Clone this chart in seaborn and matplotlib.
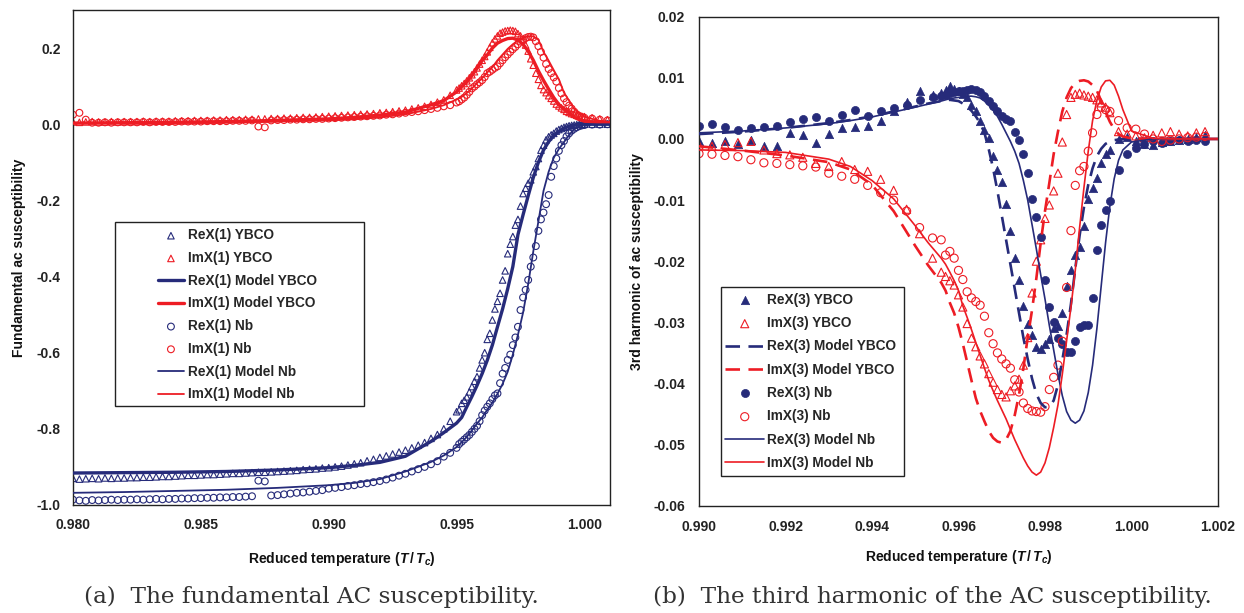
import matplotlib
matplotlib.use('Agg')
import matplotlib.pyplot as plt
from matplotlib.patches import Rectangle
from matplotlib.ticker import MultipleLocator, FormatStrFormatter
import seaborn as sns

# ---------------- (a) fundamental ac susceptibility ----------------
t1_data = [0.98000, 0.98025, 0.98050, 0.98075, 0.98100, 0.98125, 0.98150, 0.98175, 0.98200, 0.98225,
           0.98250, 0.98275, 0.98300, 0.98325, 0.98350, 0.98375, 0.98400, 0.98425, 0.98450, 0.98475,
           0.98500, 0.98525, 0.98550, 0.98575, 0.98600, 0.98625, 0.98650, 0.98675, 0.98700, 0.98725,
           0.98750, 0.98775, 0.98800, 0.98825, 0.98850, 0.98875, 0.98900, 0.98925, 0.98950, 0.98975,
           0.99000, 0.99025, 0.99050, 0.99075, 0.99100, 0.99125, 0.99150, 0.99175, 0.99200, 0.99225,
           0.99250, 0.99275, 0.99300, 0.99325, 0.99350, 0.99375, 0.99400, 0.99425, 0.99450, 0.99475,
           0.99500,
           0.9951, 0.9952, 0.9953, 0.9954, 0.9955, 0.9956, 0.9957, 0.9958, 0.9959, 0.9960,
           0.9961, 0.9962, 0.9963, 0.9964, 0.9965, 0.9966, 0.9967, 0.9968, 0.9969, 0.9970,
           0.9971, 0.9972, 0.9973, 0.9974, 0.9975, 0.9976, 0.9977, 0.9978, 0.9979, 0.9980,
           0.9981, 0.9982, 0.9983, 0.9984, 0.9985, 0.9986, 0.9987, 0.9988, 0.9989, 0.9990,
           0.9991, 0.9992, 0.9993, 0.9994, 0.9995, 0.9996, 0.9997, 0.9998, 0.9999,
           1.0000, 1.0003, 1.0006, 1.0009]

rex1_ybco = [-0.930, -0.932, -0.931, -0.930, -0.931, -0.929, -0.930, -0.929, -0.929, -0.928,
             -0.928, -0.927, -0.927, -0.926, -0.925, -0.925, -0.924, -0.923, -0.922, -0.922,
             -0.921, -0.920, -0.920, -0.919, -0.918, -0.917, -0.917, -0.916, -0.915, -0.914,
             -0.914, -0.913, -0.912, -0.911, -0.910, -0.909, -0.907, -0.906, -0.905, -0.903,
             -0.902, -0.900, -0.898, -0.895, -0.892, -0.889, -0.884, -0.880, -0.875, -0.871,
             -0.866, -0.861, -0.856, -0.850, -0.843, -0.836, -0.825, -0.815, -0.800, -0.780,
             -0.755,
             -0.750, -0.733, -0.725, -0.716, -0.703, -0.689, -0.675, -0.663, -0.640, -0.619,
             -0.600, -0.565, -0.549, -0.514, -0.485, -0.465, -0.444, -0.409, -0.385, -0.340,
             -0.315, -0.295, -0.265, -0.250, -0.215, -0.182, -0.168, -0.155, -0.146, -0.125,
             -0.111, -0.090, -0.068, -0.055, -0.041, -0.033, -0.028, -0.024, -0.018, -0.014,
             -0.011, -0.008, -0.006, -0.004, -0.003, -0.002, -0.001, 0.000, 0.000,
             0.000, 0.000, 0.000, 0.000]

imx1_ybco = [0.006, 0.005, 0.006, 0.007, 0.006, 0.006, 0.007, 0.006, 0.007, 0.007,
             0.007, 0.008, 0.007, 0.008, 0.008, 0.008, 0.009, 0.009, 0.009, 0.010,
             0.010, 0.010, 0.011, 0.011, 0.012, 0.012, 0.012, 0.013, 0.013, 0.014,
             0.014, 0.015, 0.015, 0.016, 0.016, 0.017, 0.018, 0.018, 0.019, 0.020,
             0.021, 0.022, 0.023, 0.024, 0.025, 0.026, 0.027, 0.028, 0.030, 0.031,
             0.033, 0.035, 0.037, 0.040, 0.043, 0.047, 0.052, 0.058, 0.064, 0.076,
             0.090,
             0.095, 0.101, 0.107, 0.114, 0.122, 0.130, 0.138, 0.148, 0.158, 0.168,
             0.178, 0.190, 0.202, 0.214, 0.224, 0.232, 0.239, 0.242, 0.245, 0.246,
             0.247, 0.246, 0.244, 0.238, 0.232, 0.222, 0.208, 0.192, 0.172, 0.155,
             0.134, 0.118, 0.102, 0.091, 0.083, 0.075, 0.068, 0.061, 0.053, 0.048,
             0.043, 0.039, 0.034, 0.031, 0.028, 0.026, 0.024, 0.022, 0.021,
             0.020, 0.017, 0.014, 0.012]

rex1_nb = [-0.986, -0.988, -0.989, -0.987, -0.988, -0.987, -0.986, -0.987, -0.986, -0.986,
           -0.985, -0.986, -0.985, -0.984, -0.985, -0.984, -0.984, -0.983, -0.983, -0.982,
           -0.982, -0.981, -0.981, -0.980, -0.980, -0.979, -0.979, -0.978, -0.977, -0.936,
           -0.938, -0.975, -0.974, -0.972, -0.970, -0.968, -0.967, -0.965, -0.963, -0.961,
           -0.957, -0.955, -0.953, -0.950, -0.948, -0.945, -0.943, -0.940, -0.937, -0.933,
           -0.928, -0.923, -0.918, -0.912, -0.906, -0.900, -0.893, -0.885, -0.873, -0.863,
           -0.850,
           -0.840, -0.834, -0.828, -0.822, -0.816, -0.808, -0.800, -0.792, -0.780, -0.764,
           -0.752, -0.742, -0.733, -0.722, -0.712, -0.707, -0.680, -0.655, -0.640, -0.619,
           -0.605, -0.580, -0.560, -0.532, -0.488, -0.455, -0.435, -0.409, -0.374, -0.350,
           -0.320, -0.280, -0.250, -0.232, -0.210, -0.186, -0.138, -0.110, -0.090, -0.070,
           -0.055, -0.044, -0.032, -0.024, -0.017, -0.012, -0.008, -0.005, -0.003,
           -0.002, -0.001, -0.001, 0.000]

imx1_nb = [0.025, 0.030, 0.012, 0.004, 0.004, 0.005, 0.004, 0.005, 0.005, 0.005,
           0.005, 0.006, 0.005, 0.006, 0.006, 0.006, 0.006, 0.007, 0.007, 0.007,
           0.007, 0.008, 0.008, 0.008, 0.008, 0.009, 0.009, 0.009, 0.010, -0.006,
           -0.008, 0.010, 0.011, 0.011, 0.012, 0.012, 0.013, 0.013, 0.014, 0.014,
           0.015, 0.016, 0.017, 0.018, 0.019, 0.020, 0.021, 0.022, 0.023, 0.025,
           0.026, 0.028, 0.030, 0.032, 0.034, 0.037, 0.040, 0.043, 0.047, 0.050,
           0.057,
           0.060, 0.065, 0.070, 0.077, 0.085, 0.094, 0.099, 0.105, 0.110, 0.116,
           0.124, 0.134, 0.138, 0.143, 0.148, 0.152, 0.160, 0.168, 0.176, 0.183,
           0.190, 0.197, 0.203, 0.210, 0.217, 0.222, 0.226, 0.229, 0.230, 0.228,
           0.218, 0.205, 0.190, 0.175, 0.158, 0.145, 0.134, 0.123, 0.112, 0.095,
           0.081, 0.068, 0.058, 0.049, 0.041, 0.033, 0.024, 0.021, 0.019,
           0.017, 0.015, 0.012, 0.010]

t1_model = [0.9800, 0.9820, 0.9840, 0.9860, 0.9880, 0.9900, 0.9910, 0.9920, 0.9930, 0.9940,
            0.9945, 0.9950,
            0.9952, 0.9954, 0.9956, 0.9958, 0.9960, 0.9962, 0.9964, 0.9966, 0.9968, 0.9970,
            0.9972, 0.9974, 0.9976, 0.9978, 0.9980, 0.9982, 0.9984, 0.9986, 0.9988, 0.9990,
            0.9992, 0.9994, 0.9996, 0.9998,
            1.0000, 1.0005, 1.0010]

rex1_ybco_model = [-0.916, -0.915, -0.914, -0.912, -0.908, -0.902, -0.896, -0.888, -0.872, -0.833,
                   -0.810, -0.785,
                   -0.770, -0.742, -0.715, -0.686, -0.655, -0.620, -0.580, -0.532, -0.485, -0.432,
                   -0.374, -0.290, -0.238, -0.188, -0.140, -0.100, -0.068, -0.046, -0.030, -0.019,
                   -0.010, -0.005, -0.002, 0.000,
                   0.000, 0.000, 0.000]

imx1_ybco_model = [0.003, 0.004, 0.005, 0.007, 0.010, 0.014, 0.018, 0.024, 0.032, 0.051,
                   0.062, 0.085,
                   0.099, 0.111, 0.128, 0.147, 0.167, 0.182, 0.200, 0.213, 0.220, 0.225,
                   0.226, 0.221, 0.210, 0.192, 0.168, 0.140, 0.115, 0.092, 0.070, 0.052,
                   0.040, 0.030, 0.018, 0.012,
                   0.008, 0.005, 0.004]

rex1_nb_model = [-0.968, -0.966, -0.963, -0.960, -0.955, -0.948, -0.942, -0.932, -0.912, -0.887,
                 -0.870, -0.848,
                 -0.835, -0.821, -0.804, -0.786, -0.770, -0.750, -0.731, -0.708, -0.682, -0.650,
                 -0.605, -0.553, -0.495, -0.420, -0.334, -0.255, -0.175, -0.125, -0.088, -0.065,
                 -0.047, -0.028, -0.013, -0.005,
                 0.000, 0.000, 0.000]

imx1_nb_model = [0.002, 0.003, 0.004, 0.005, 0.007, 0.010, 0.013, 0.018, 0.026, 0.040,
                 0.050, 0.065,
                 0.072, 0.082, 0.094, 0.108, 0.121, 0.136, 0.150, 0.168, 0.183, 0.198,
                 0.210, 0.220, 0.227, 0.231, 0.231, 0.222, 0.190, 0.167, 0.142, 0.118,
                 0.083, 0.062, 0.040, 0.031,
                 0.020, 0.010, 0.006]

# ---------------- (b) third harmonic ----------------
t3_data = [0.9900, 0.9903, 0.9906, 0.9909, 0.9912, 0.9915, 0.9918, 0.9921, 0.9924, 0.9927,
           0.9930, 0.9933, 0.9936, 0.9939, 0.9942, 0.9945, 0.9948, 0.9951, 0.9954,
           0.9956, 0.9957, 0.9958, 0.9959, 0.9960, 0.9961, 0.9962, 0.9963, 0.9964, 0.9965,
           0.9966, 0.9967, 0.9968, 0.9969, 0.9970, 0.9971, 0.9972, 0.9973, 0.9974, 0.9975,
           0.9976, 0.9977, 0.9978, 0.9979, 0.9980, 0.9981, 0.9982, 0.9983, 0.9984, 0.9985,
           0.9986, 0.9987, 0.9988, 0.9989, 0.9990, 0.9991, 0.9992, 0.9993, 0.9994, 0.9995,
           0.9997, 0.9999, 1.0001, 1.0003, 1.0005, 1.0007, 1.0009, 1.0011, 1.0013, 1.0015,
           1.0017]

rex3_ybco = [-0.0004, -0.0006, -0.0003, -0.0009, -0.0002, -0.0011, -0.0012, 0.0010, 0.0006, -0.0007,
             0.0008, 0.0018, 0.0020, 0.0022, 0.0030, 0.0045, 0.0060, 0.0078, 0.0072,
             0.0075, 0.0080, 0.0087, 0.0082, 0.0078, 0.0074, 0.0068, 0.0056, 0.0045, 0.0030,
             0.0015, 0.0002, -0.0028, -0.0050, -0.0070, -0.0106, -0.0150, -0.0195, -0.0230, -0.0273,
             -0.0302, -0.0320, -0.0340, -0.0344, -0.0335, -0.0328, -0.0310, -0.0306, -0.0284, -0.0240,
             -0.0214, -0.0190, -0.0176, -0.0143, -0.0098, -0.0080, -0.0064, -0.0039, -0.0025, -0.0018,
             0.0000, 0.0004, -0.0004, -0.0008, -0.0010, -0.0005, -0.0003, -0.0002, 0.0000, 0.0004,
             0.0006]

imx3_ybco = [-0.0010, -0.0012, -0.0009, -0.0006, -0.0004, -0.0018, -0.0024, -0.0026, -0.0030, -0.0040,
             -0.0045, -0.0037, -0.0050, -0.0053, -0.0066, -0.0084, -0.0115, -0.0155, -0.0195,
             -0.0218, -0.0225, -0.0232, -0.0239, -0.0255, -0.0275, -0.0302, -0.0326, -0.0340, -0.0355,
             -0.0368, -0.0384, -0.0398, -0.0410, -0.0418, -0.0422, -0.0412, -0.0404, -0.0393, -0.0370,
             -0.0325, -0.0252, -0.0200, -0.0165, -0.0130, -0.0108, -0.0085, -0.0056, -0.0005, 0.0040,
             0.0068, 0.0073, 0.0075, 0.0072, 0.0070, 0.0068, 0.0064, 0.0059, 0.0052, 0.0043,
             0.0012, 0.0008, 0.0005, 0.0002, 0.0006, 0.0010, 0.0012, 0.0008, 0.0005, 0.0010,
             0.0012]

rex3_nb = [0.0022, 0.0024, 0.0020, 0.0015, 0.0018, 0.0020, 0.0022, 0.0028, 0.0032, 0.0036,
           0.0030, 0.0040, 0.0048, 0.0037, 0.0045, 0.0050, 0.0056, 0.0063, 0.0068,
           0.0070, 0.0072, 0.0075, 0.0076, 0.0078, 0.0079, 0.0080, 0.0081, 0.0080, 0.0076,
           0.0070, 0.0062, 0.0054, 0.0045, 0.0038, 0.0033, 0.0030, 0.0012, -0.0002, -0.0024,
           -0.0055, -0.0099, -0.0128, -0.0160, -0.0231, -0.0275, -0.0300, -0.0325, -0.0335, -0.0349,
           -0.0349, -0.0330, -0.0308, -0.0304, -0.0305, -0.0261, -0.0181, -0.0140, -0.0116, -0.0102,
           -0.0050, -0.0025, -0.0015, -0.0008, -0.0004, -0.0006, -0.0004, -0.0002, -0.0003, -0.0001,
           -0.0003]

imx3_nb = [-0.0024, -0.0025, -0.0027, -0.0029, -0.0034, -0.0039, -0.0040, -0.0042, -0.0044, -0.0046,
           -0.0056, -0.0061, -0.0066, -0.0076, -0.0088, -0.0100, -0.0118, -0.0145, -0.0162,
           -0.0165, -0.0190, -0.0184, -0.0195, -0.0215, -0.0230, -0.0250, -0.0260, -0.0266, -0.0272,
           -0.0290, -0.0317, -0.0335, -0.0350, -0.0360, -0.0368, -0.0375, -0.0394, -0.0414, -0.0432,
           -0.0441, -0.0445, -0.0446, -0.0447, -0.0438, -0.0410, -0.0390, -0.0370, -0.0331, -0.0243,
           -0.0150, -0.0076, -0.0052, -0.0045, -0.0020, 0.0010, 0.0040, 0.0052, 0.0048, 0.0045,
           0.0030, 0.0018, 0.0016, 0.0008, 0.0000, -0.0004, -0.0002, 0.0000, 0.0002, 0.0003,
           0.0004]

t3_model = [0.9900, 0.9910, 0.9920, 0.9930, 0.9935, 0.9940, 0.9945, 0.9950, 0.9953,
            0.9956, 0.9957, 0.9958, 0.9959, 0.9960, 0.9961, 0.9962, 0.9963, 0.9964, 0.9965,
            0.9966, 0.9967, 0.9968, 0.9969, 0.9970, 0.9971, 0.9972, 0.9973, 0.9974, 0.9975,
            0.9976, 0.9977, 0.9978, 0.9979, 0.9980, 0.9981, 0.9982, 0.9983, 0.9984, 0.9985,
            0.9986, 0.9987, 0.9988, 0.9989, 0.9990, 0.9991, 0.9992, 0.9993, 0.9994, 0.9995,
            0.9996, 0.9997, 0.9998,
            1.0000, 1.0005, 1.0010, 1.0015, 1.0020]

rex3_ybco_model = [0.0008, 0.0012, 0.0018, 0.0026, 0.0031, 0.0037, 0.0045, 0.0053, 0.0058,
                   0.0062, 0.0063, 0.0064, 0.0063, 0.0062, 0.0058, 0.0053, 0.0046, 0.0037, 0.0026,
                   0.0010, -0.0017, -0.0048, -0.0085, -0.0125, -0.0165, -0.0205, -0.0245, -0.0285, -0.0325,
                   -0.0360, -0.0392, -0.0417, -0.0432, -0.0439, -0.0438, -0.0428, -0.0402, -0.0362, -0.0320,
                   -0.0270, -0.0212, -0.0158, -0.0112, -0.0075, -0.0048, -0.0028, -0.0016, -0.0008, -0.0004,
                   -0.0002, -0.0001, 0.0000,
                   0.0000, 0.0000, 0.0000, 0.0000, 0.0000]

imx3_ybco_model = [-0.0012, -0.0019, -0.0027, -0.0038, -0.0050, -0.0075, -0.0118, -0.0175, -0.0207,
                   -0.0235, -0.0248, -0.0268, -0.0285, -0.0308, -0.0335, -0.0365, -0.0395, -0.0424, -0.0445,
                   -0.0462, -0.0478, -0.0489, -0.0495, -0.0497, -0.0492, -0.0478, -0.0452, -0.0418, -0.0375,
                   -0.0325, -0.0280, -0.0228, -0.0170, -0.0118, -0.0072, -0.0025, 0.0012, 0.0045, 0.0068,
                   0.0083, 0.0092, 0.0095, 0.0096, 0.0094, 0.0088, 0.0079, 0.0062, 0.0044, 0.0028,
                   0.0016, 0.0008, 0.0004,
                   0.0001, 0.0000, 0.0000, 0.0000, 0.0000]

rex3_nb_model = [0.0010, 0.0013, 0.0018, 0.0025, 0.0030, 0.0036, 0.0044, 0.0052, 0.0057,
                 0.0062, 0.0064, 0.0066, 0.0067, 0.0068, 0.0069, 0.0070, 0.0070, 0.0069, 0.0067,
                 0.0062, 0.0055, 0.0047, 0.0037, 0.0024, 0.0010, -0.0004, -0.0020, -0.0040, -0.0068,
                 -0.0100, -0.0140, -0.0180, -0.0222, -0.0262, -0.0305, -0.0345, -0.0385, -0.0420, -0.0446,
                 -0.0460, -0.0465, -0.0460, -0.0445, -0.0415, -0.0370, -0.0310, -0.0240, -0.0170, -0.0110,
                 -0.0065, -0.0035, -0.0018,
                 -0.0005, 0.0000, 0.0000, 0.0000, 0.0000]

imx3_nb_model = [-0.0018, -0.0019, -0.0022, -0.0033, -0.0045, -0.0068, -0.0098, -0.0142, -0.0170,
                 -0.0195, -0.0205, -0.0218, -0.0232, -0.0248, -0.0273, -0.0292, -0.0312, -0.0333, -0.0354,
                 -0.0375, -0.0395, -0.0412, -0.0428, -0.0443, -0.0458, -0.0475, -0.0492, -0.0507, -0.0522,
                 -0.0535, -0.0545, -0.0550, -0.0545, -0.0530, -0.0505, -0.0472, -0.0435, -0.0385, -0.0330,
                 -0.0275, -0.0215, -0.0145, -0.0080, -0.0020, 0.0030, 0.0063, 0.0085, 0.0095, 0.0096,
                 0.0088, 0.0070, 0.0048,
                 0.0013, 0.0001, 0.0000, 0.0000, 0.0000]

NAVY = '#262B7A'
RED = '#ED1C24'
FRAME = '#222222'

sns.set_style('white')
plt.rcParams['font.family'] = ['Liberation Sans', 'DejaVu Sans']
plt.rcParams['font.weight'] = 'bold'
plt.rcParams['axes.unicode_minus'] = False
plt.rcParams['mathtext.fontset'] = 'custom'
plt.rcParams['mathtext.rm'] = 'Liberation Sans:bold'
plt.rcParams['mathtext.it'] = 'Liberation Sans:italic:bold'
plt.rcParams['mathtext.bf'] = 'Liberation Sans:bold'

fig = plt.figure(figsize=(12.44, 6.13), dpi=100)
ax1 = fig.add_axes([73 / 1244, (613 - 505) / 613, 537 / 1244, 495 / 613])
ax2 = fig.add_axes([699 / 1244, (613 - 505.7) / 613, 519 / 1244, 489 / 613])


def open_pts(ax, x, y, marker, color, label, size):
    sns.scatterplot(x=x, y=y, ax=ax, marker=marker, s=size, color=color, facecolor='none',
                    edgecolor=color, linewidth=0.8, label=label, zorder=2, legend=False)


def filled_pts(ax, x, y, marker, color, label, size):
    sns.scatterplot(x=x, y=y, ax=ax, marker=marker, s=size, color=color, edgecolor=color,
                    linewidth=0.5, label=label, zorder=2, legend=False)


def model_line(ax, x, y, color, lw, label, ls='-'):
    sns.lineplot(x=x, y=y, ax=ax, color=color, linewidth=lw, linestyle=ls, label=label,
                 estimator=None, errorbar=None, zorder=3, legend=False)


# panel (a)
open_pts(ax1, t1_data, rex1_ybco, '^', NAVY, 'ReX(1) YBCO', 22)
open_pts(ax1, t1_data, imx1_ybco, '^', RED, 'ImX(1) YBCO', 22)
model_line(ax1, t1_model, rex1_ybco_model, NAVY, 2.4, 'ReX(1) Model YBCO')
model_line(ax1, t1_model, imx1_ybco_model, RED, 2.4, 'ImX(1) Model YBCO')
open_pts(ax1, t1_data, rex1_nb, 'o', NAVY, 'ReX(1) Nb', 24)
open_pts(ax1, t1_data, imx1_nb, 'o', RED, 'ImX(1) Nb', 24)
model_line(ax1, t1_model, rex1_nb_model, NAVY, 1.3, 'ReX(1) Model Nb')
model_line(ax1, t1_model, imx1_nb_model, RED, 1.3, 'ImX(1) Model Nb')

# panel (b)
dash = (0, (5.5, 3.2))
filled_pts(ax2, t3_data, rex3_ybco, '^', NAVY, 'ReX(3) YBCO', 36)
open_pts(ax2, t3_data, imx3_ybco, '^', RED, 'ImX(3) YBCO', 34)
model_line(ax2, t3_model, rex3_ybco_model, NAVY, 1.9, 'ReX(3) Model YBCO', dash)
model_line(ax2, t3_model, imx3_ybco_model, RED, 1.9, 'ImX(3) Model YBCO', dash)
filled_pts(ax2, t3_data, rex3_nb, 'o', NAVY, 'ReX(3) Nb', 34)
open_pts(ax2, t3_data, imx3_nb, 'o', RED, 'ImX(3) Nb', 34)
model_line(ax2, t3_model, rex3_nb_model, NAVY, 1.2, 'ReX(3) Model Nb')
model_line(ax2, t3_model, imx3_nb_model, RED, 1.2, 'ImX(3) Model Nb')

# axes (a)
ax1.set_xlim(0.980, 1.001)
ax1.set_ylim(-1.0, 0.3)
ax1.xaxis.set_major_locator(MultipleLocator(0.005))
ax1.xaxis.set_minor_locator(MultipleLocator(0.001))
ax1.yaxis.set_major_locator(MultipleLocator(0.2))
ax1.yaxis.set_minor_locator(MultipleLocator(0.04))
ax1.xaxis.set_major_formatter(FormatStrFormatter('%.3f'))
ax1.yaxis.set_major_formatter(FormatStrFormatter('%.1f'))
ax1.tick_params(axis='x', which='major', direction='inout', length=9, width=0.9, pad=5,
                labelsize=10, colors=FRAME)
ax1.tick_params(axis='x', which='minor', direction='in', length=3.5, width=0.9, colors=FRAME)
ax1.tick_params(axis='y', which='major', direction='out', length=4, width=0.9, pad=5,
                labelsize=10, colors=FRAME)
ax1.tick_params(axis='y', which='minor', direction='in', length=4.5, width=0.9, colors=FRAME)

# axes (b)
ax2.set_xlim(0.990, 1.002)
ax2.set_ylim(-0.06, 0.02)
ax2.xaxis.set_major_locator(MultipleLocator(0.002))
ax2.yaxis.set_major_locator(MultipleLocator(0.01))
ax2.xaxis.set_major_formatter(FormatStrFormatter('%.3f'))
ax2.yaxis.set_major_formatter(FormatStrFormatter('%.2f'))
ax2.tick_params(axis='both', which='major', direction='out', length=5, width=0.9, pad=5,
                labelsize=10, colors=FRAME)

xlab = r'Reduced temperature ($T\,/\,T_{c}$)'
for ax in (ax1, ax2):
    for sp in ax.spines.values():
        sp.set_visible(True)
        sp.set_color(FRAME)
        sp.set_linewidth(1.0)
    ax.set_xlabel(xlab, fontsize=10, fontweight='bold', color='#111111')

ax1.set_ylabel('Fundamental ac susceptibility', fontsize=10, fontweight='bold', color='#111111')
ax2.set_ylabel('3rd harmonic of ac susceptibility', fontsize=10, fontweight='bold', color='#111111')
ax1.yaxis.set_label_coords(-0.0875, 0.5)
ax2.yaxis.set_label_coords(-0.106, 0.5)
ax1.xaxis.set_label_coords(0.5, -0.09)
ax2.xaxis.set_label_coords(0.5, -0.087)

# legends: frameless legend + separate box, as in the original figure
ax1.add_patch(Rectangle((0.0782, 0.2), 0.4637, 0.3717, transform=ax1.transAxes,
                        facecolor='white', edgecolor=FRAME, linewidth=1.0, zorder=4))
leg1 = ax1.legend(loc='upper left', bbox_to_anchor=(0.1583, 0.559), borderaxespad=0,
                  borderpad=0, frameon=False, handlelength=1.9, handletextpad=0.3,
                  labelspacing=0.64, fontsize=9.8, scatterpoints=1)
leg1.set_zorder(5)

ax2.add_patch(Rectangle((0.0424, 0.0607), 0.3526, 0.3865, transform=ax2.transAxes,
                        facecolor='white', edgecolor=FRAME, linewidth=1.0, zorder=4))
leg2 = ax2.legend(loc='upper left', bbox_to_anchor=(0.0501, 0.435), borderaxespad=0,
                  borderpad=0, frameon=False, handlelength=2.9, handletextpad=0.2,
                  labelspacing=0.68, fontsize=9.8, scatterpoints=1)
leg2.set_zorder(5)

# captions
fig.text(311 / 1244, 1 - 597 / 613, '(a)  The fundamental AC susceptibility.', ha='center',
         va='center', family='DejaVu Serif', fontweight='normal', fontsize=16.7, color='#333333')
fig.text(932 / 1244, 1 - 597 / 613, '(b)  The third harmonic of the AC susceptibility.',
         ha='center', va='center', family='DejaVu Serif', fontweight='normal', fontsize=16.7,
         color='#333333')

fig.savefig('out.png', dpi=100)
